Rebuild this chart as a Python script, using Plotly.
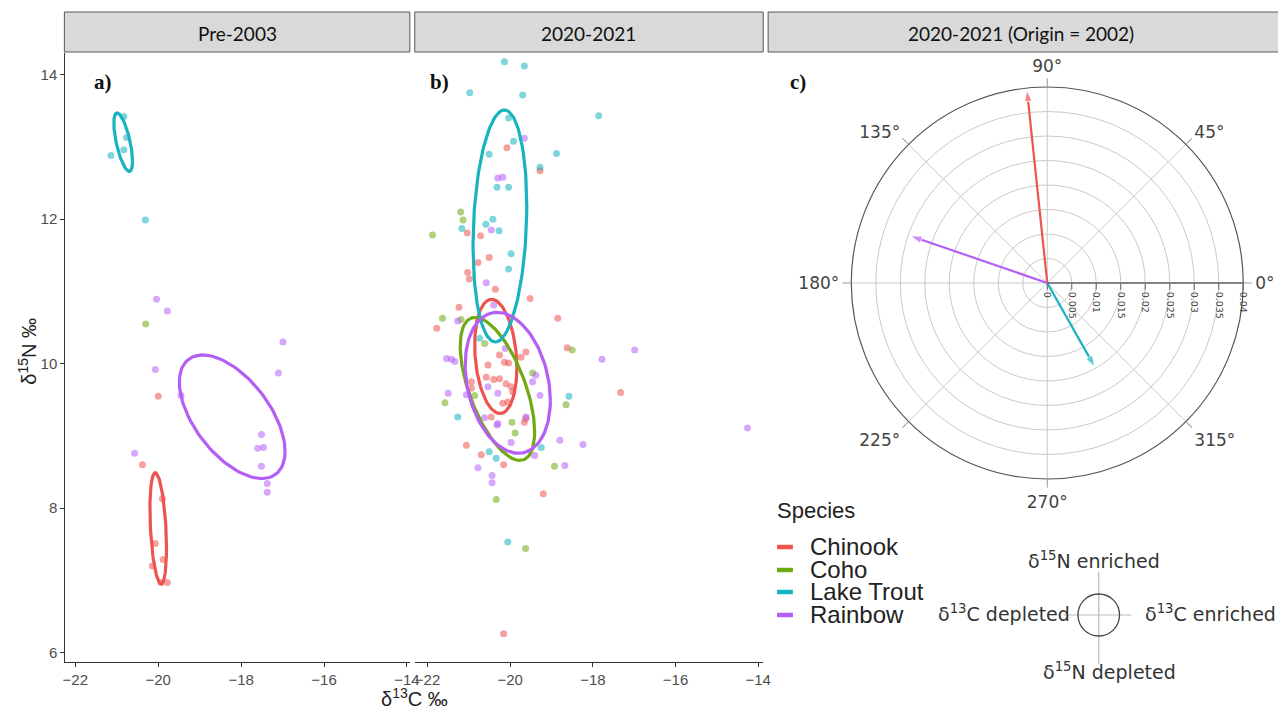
import numpy as np
import plotly.graph_objects as go

species = ["Chinook", "Coho", "Lake Trout", "Rainbow"]
colors = ["#EF5350", "#6FAA12", "#17B3BF", "#B45EF5"]

# ---------- Panel a: Pre-2003 ----------
pre_chinook_x = [-20.0, -20.38, -20.07, -20.14, -19.88, -19.78, -19.93, -19.9]
pre_chinook_y = [9.55, 8.60, 7.51, 7.20, 7.29, 6.97, 6.97, 8.13]
pre_coho_x = [-20.30]
pre_coho_y = [10.55]
pre_laketrout_x = [-21.14, -20.83, -20.83, -20.76, -20.31]
pre_laketrout_y = [12.88, 12.96, 13.42, 13.13, 11.99]
pre_rainbow_x = [-20.04, -19.78, -16.99, -20.07, -19.45, -17.10, -17.51, -17.60, -17.46, -17.51, -17.37, -17.37, -20.57]
pre_rainbow_y = [10.89, 10.73, 10.30, 9.92, 9.56, 9.87, 9.02, 8.83, 8.84, 8.58, 8.34, 8.22, 8.76]

# ---------- Panel b: 2020-2021 ----------
post_chinook_x = [-20.08, -19.28, -21.04, -20.72, -20.51, -20.78, -21.03, -20.99, -20.36, -19.52, -21.24, -21.78,
                  -18.85, -18.62, -17.33, -20.26, -20.54, -20.14, -20.04, -19.62, -20.58, -20.40, -20.26, -20.10,
                  -19.98, -19.94, -20.94, -20.94, -20.18, -20.06, -20.46, -19.74, -19.62, -19.66, -21.06, -20.70,
                  -20.16, -19.20, -20.16]
post_chinook_y = [12.99, 12.67, 11.81, 11.77, 11.47, 11.40, 11.26, 11.17, 11.03, 10.90, 10.78, 10.49,
                  10.63, 10.22, 9.60, 10.12, 9.98, 10.02, 10.01, 10.16, 9.81, 9.78, 9.79, 9.72,
                  9.68, 9.61, 9.75, 9.66, 9.45, 9.47, 9.26, 10.09, 9.24, 9.19, 8.87, 8.74,
                  8.60, 8.20, 6.26]
post_coho_x = [-21.20, -21.14, -21.88, -21.64, -21.19, -20.62, -18.50, -19.46, -20.86, -21.58, -18.65, -19.96,
               -19.88, -18.93, -20.34, -19.63]
post_coho_y = [12.10, 11.99, 11.78, 10.63, 10.61, 10.28, 10.19, 9.87, 9.56, 9.46, 9.43, 9.19,
               9.04, 8.58, 8.12, 7.44]
post_laketrout_x = [-20.14, -19.66, -20.98, -19.70, -17.86, -20.04, -19.92, -20.51, -18.88, -19.28, -20.32, -20.04,
                    -20.42, -20.59, -20.27, -21.17, -19.98, -20.04, -20.74, -18.58, -21.27, -20.51, -20.34, -19.25,
                    -20.06]
post_laketrout_y = [14.18, 14.12, 13.75, 13.72, 13.43, 13.40, 13.08, 12.90, 12.91, 12.72, 12.44, 12.44,
                    12.00, 11.93, 11.84, 11.87, 11.52, 11.31, 10.35, 9.55, 9.26, 8.78, 8.69, 8.84,
                    7.53]
post_rainbow_x = [-19.66, -20.30, -20.18, -20.46, -20.58, -21.27, -20.40, -20.12, -21.54, -21.42, -21.34, -17.78,
                  -16.99, -20.54, -20.30, -19.46, -19.38, -19.28, -21.50, -20.62, -20.30, -19.62, -21.06, -20.78,
                  -20.44, -20.44, -19.98, -19.41, -18.80, -18.24, -18.68, -14.26, -20.32]
post_rainbow_y = [13.12, 12.57, 12.58, 11.85, 11.12, 10.59, 10.81, 10.21, 10.07, 10.06, 10.03, 10.06,
                  10.19, 9.68, 9.59, 9.75, 9.84, 9.56, 9.59, 9.25, 9.17, 9.26, 9.57, 8.56,
                  8.45, 8.35, 8.91, 8.73, 8.94, 8.88, 8.59, 9.11, 9.15]

# ellipse parameters per species (centre x, centre y, sd x, sd y, correlation)
pre_ell_cx = [-20.0, None, -20.845, -18.215]
pre_ell_cy = [7.72, None, 13.065, 9.265]
pre_ell_sx = [0.20, None, 0.225, 1.275]
pre_ell_sy = [0.77, None, 0.405, 0.855]
pre_ell_rho = [-0.35, None, -0.65, -0.56]

post_ell_cx = [-20.35, -20.31, -20.25, -20.06]
post_ell_cy = [10.10, 9.65, 11.905, 9.735]
post_ell_sx = [0.51, 0.90, 0.65, 1.03]
post_ell_sy = [0.79, 0.99, 1.605, 0.975]
post_ell_rho = [-0.20, -0.60, 0.17, -0.25]

# ---------- Panel c: polar vectors ----------
arrow_species = ["Chinook", "Lake Trout", "Rainbow"]
arrow_angle = [96.0, 299.5, 161.0]
arrow_len = [0.0396, 0.0197, 0.0295]

radial_ticks = [0, 0.005, 0.01, 0.015, 0.02, 0.025, 0.03, 0.035, 0.04]
radial_ticktext = ["0", "0.005", "0.01", "0.015", "0.02", "0.025", "0.03", "0.035", "0.04"]
angle_ticks = [0, 45, 90, 135, 180, 225, 270, 315]

x_ticks = [-22, -20, -18, -16, -14]
y_ticks = [6, 8, 10, 12, 14]

W, H = 1278, 713


def ellipse(cx, cy, sx, sy, rho, n=120):
    t = np.linspace(0, 2 * np.pi, n)
    x = cx + sx * np.cos(t)
    y = cy + sy * (rho * np.cos(t) + np.sqrt(1 - rho ** 2) * np.sin(t))
    return x, y


def px_x(v):
    return v / W


def px_y(v):
    return 1 - v / H


fig = go.Figure()

pre_pts = [(pre_chinook_x, pre_chinook_y), (pre_coho_x, pre_coho_y),
           (pre_laketrout_x, pre_laketrout_y), (pre_rainbow_x, pre_rainbow_y)]
post_pts = [(post_chinook_x, post_chinook_y), (post_coho_x, post_coho_y),
            (post_laketrout_x, post_laketrout_y), (post_rainbow_x, post_rainbow_y)]

for (xa, ya, pts, cxs, cys, sxs, sys_, rhos) in [
        ("x", "y", pre_pts, pre_ell_cx, pre_ell_cy, pre_ell_sx, pre_ell_sy, pre_ell_rho),
        ("x2", "y", post_pts, post_ell_cx, post_ell_cy, post_ell_sx, post_ell_sy, post_ell_rho)]:
    for i, sp in enumerate(species):
        px, py = pts[i]
        fig.add_trace(go.Scatter(x=px, y=py, mode="markers", xaxis=xa, yaxis=ya, name=sp,
                                 marker=dict(color=colors[i], size=7, opacity=0.55),
                                 showlegend=False, hoverinfo="skip"))
    for i, sp in enumerate(species):
        if cxs[i] is None:
            continue
        ex, ey = ellipse(cxs[i], cys[i], sxs[i], sys_[i], rhos[i])
        fig.add_trace(go.Scatter(x=ex, y=ey, mode="lines", xaxis=xa, yaxis=ya, name=sp,
                                 line=dict(color=colors[i], width=3.2),
                                 showlegend=False, hoverinfo="skip"))

# polar arrows
for sp, ang, ln in zip(arrow_species, arrow_angle, arrow_len):
    c = colors[species.index(sp)]
    fig.add_trace(go.Scatterpolar(r=[0, ln], theta=[ang, ang], mode="lines+markers", name=sp,
                                  line=dict(color=c, width=2.2),
                                  marker=dict(symbol=["circle", "arrow"], size=[0, 12],
                                              angleref="previous", color=c),
                                  showlegend=False, hoverinfo="skip"))

axis_common = dict(showgrid=False, zeroline=False, showline=True, linecolor="#333333", linewidth=1.2,
                   ticks="outside", ticklen=4, tickcolor="#333333",
                   tickfont=dict(family="Liberation Sans", size=15, color="#4D4D4D"))

fig.update_layout(
    width=W, height=H, margin=dict(l=0, r=0, t=0, b=0),
    paper_bgcolor="white", plot_bgcolor="white", showlegend=False,
    xaxis=dict(domain=[63 / W, 411 / W], range=[-22.24, -13.93], tickvals=x_ticks, anchor="y", **axis_common),
    xaxis2=dict(domain=[416 / W, 768 / W], range=[-22.31, -13.88], tickvals=x_ticks, anchor="y2", **axis_common),
    yaxis=dict(domain=[1 - 662 / H, 1 - 53 / H], range=[5.87, 14.30], tickvals=y_ticks, anchor="x", **axis_common),
    yaxis2=dict(domain=[1 - 662 / H, 1 - 53 / H], matches="y", anchor="x2", showline=False, showgrid=False,
                zeroline=False, showticklabels=False, ticks=""),
    polar=dict(
        domain=dict(x=[(1055 - 198) / W, (1055 + 198) / W], y=[1 - (283 + 198) / H, 1 - (283 - 198) / H]),
        bgcolor="white",
        radialaxis=dict(range=[0, 0.04], tickvals=radial_ticks, ticktext=radial_ticktext, angle=0,
                        side="clockwise", tickangle=90, showline=True, linecolor="#666666", linewidth=1.5,
                        gridcolor="#C9C9C9", gridwidth=1, ticks="outside", ticklen=6, tickcolor="#666666",
                        tickfont=dict(family="DejaVu Sans", size=9.5, color="#444444")),
        angularaxis=dict(tickvals=angle_ticks, ticktext=[f"{a}°" for a in angle_ticks], direction="counterclockwise",
                         rotation=0, showline=True, linecolor="#555555", linewidth=1.2, gridcolor="#C9C9C9",
                         ticks="outside", ticklen=8, tickcolor="#999999",
                         tickfont=dict(family="DejaVu Sans", size=17, color="#444444")),
    ),
)

shapes = []
annotations = []
# facet strips
for (x0, x1, label) in [(62, 411, "Pre-2003"), (416, 768, "2020-2021"), (773, 1290, "2020-2021 (Origin = 2002)")]:
    shapes.append(dict(type="rect", xref="paper", yref="paper", x0=px_x(x0), x1=px_x(x1), y0=px_y(52), y1=px_y(12),
                       fillcolor="#D9D9D9", line=dict(color="#595959", width=1)))
    cx = (x0 + min(x1, 1283)) / 2
    annotations.append(dict(x=px_x(cx), y=px_y(33), xref="paper", yref="paper", text=label, showarrow=False,
                            font=dict(family="Lato", size=19, color="#111111"), xanchor="center", yanchor="middle"))

# panel labels
for (px, lab) in [(101, "a)"), (441, "b)"), (803, "c)")]:
    annotations.append(dict(x=px_x(px), y=px_y(82), xref="paper", yref="paper", text=f"<b>{lab}</b>",
                            showarrow=False, xanchor="center", yanchor="middle",
                            font=dict(family="Liberation Serif", size=21, color="#111111")))

# axis titles
annotations.append(dict(x=px_x(416), y=px_y(697), xref="paper", yref="paper", text="δ<sup>13</sup>C ‰",
                        showarrow=False, xanchor="center", yanchor="middle",
                        font=dict(family="Liberation Sans", size=20, color="#222222")))
annotations.append(dict(x=px_x(25), y=px_y(351), xref="paper", yref="paper", text="δ<sup>15</sup>N ‰",
                        showarrow=False, textangle=-90, xanchor="center", yanchor="middle",
                        font=dict(family="Liberation Sans", size=20, color="#222222")))

# legend (drawn manually)
annotations.append(dict(x=px_x(780), y=px_y(511), xref="paper", yref="paper", text="Species", showarrow=False,
                        xanchor="left", yanchor="middle",
                        font=dict(family="Liberation Sans", size=22, color="#222222")))
legend_y = [546, 569, 591, 614]
for i, sp in enumerate(species):
    annotations.append(dict(x=px_x(813), y=px_y(legend_y[i]), xref="paper", yref="paper", text=sp,
                            showarrow=False, xanchor="left", yanchor="middle",
                            font=dict(family="Liberation Sans", size=24, color="#222222")))
    shapes.append(dict(type="line", xref="paper", yref="paper", x0=px_x(782), x1=px_x(798),
                       y0=px_y(legend_y[i] + 1), y1=px_y(legend_y[i] + 1),
                       line=dict(color=colors[i], width=4.5)))

# compass
ccx, ccy = 1107, 615
shapes.append(dict(type="line", xref="paper", yref="paper", x0=px_x(1072), x1=px_x(1140), y0=px_y(ccy), y1=px_y(ccy),
                   line=dict(color="#BBBBBB", width=1.2)))
shapes.append(dict(type="line", xref="paper", yref="paper", x0=px_x(ccx), x1=px_x(ccx), y0=px_y(572), y1=px_y(664),
                   line=dict(color="#BBBBBB", width=1.2)))
shapes.append(dict(type="circle", xref="paper", yref="paper", x0=px_x(ccx - 21), x1=px_x(ccx + 21),
                   y0=px_y(ccy + 21), y1=px_y(ccy - 21), line=dict(color="#444444", width=1.3)))
cfont = dict(family="DejaVu Sans", size=19, color="#333333")
annotations += [
    dict(x=px_x(1102), y=px_y(560), xref="paper", yref="paper", text="δ<sup>15</sup>N enriched", showarrow=False,
         font=cfont, xanchor="center", yanchor="middle"),
    dict(x=px_x(1118), y=px_y(671), xref="paper", yref="paper", text="δ<sup>15</sup>N depleted", showarrow=False,
         font=cfont, xanchor="center", yanchor="middle"),
    dict(x=px_x(1080), y=px_y(613), xref="paper", yref="paper", text="δ<sup>13</sup>C depleted", showarrow=False,
         font=cfont, xanchor="right", yanchor="middle"),
    dict(x=px_x(1152), y=px_y(613), xref="paper", yref="paper", text="δ<sup>13</sup>C enriched", showarrow=False,
         font=cfont, xanchor="left", yanchor="middle"),
]

fig.update_layout(shapes=shapes, annotations=annotations)
fig.write_html("out.html")
